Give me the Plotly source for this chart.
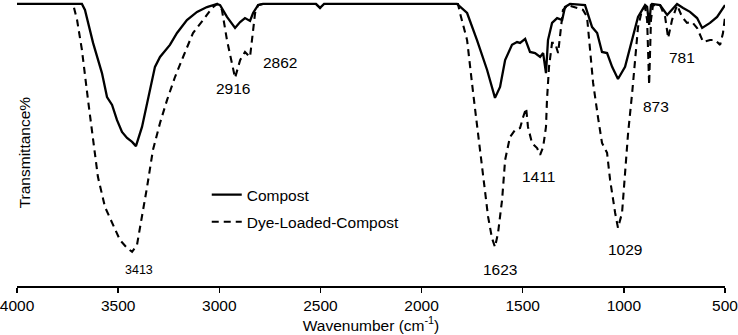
import plotly.graph_objects as go

# Compost (solid)
compost_wn = [4000, 3679, 3664, 3624, 3580, 3555, 3530, 3506, 3481, 3456, 3431, 3412, 3382, 3352,
              3318, 3293, 3244, 3209, 3160, 3110, 3061, 3011, 2996, 2962, 2922, 2897, 2873, 2848,
              2833, 2808, 2784, 2522, 2502, 2482, 1825, 1775, 1726, 1676, 1637, 1612, 1587, 1553,
              1528, 1513, 1488, 1464, 1439, 1414, 1399, 1385, 1375, 1355, 1330, 1305, 1291, 1266,
              1192, 1157, 1132, 1108, 1083, 1058, 1029, 994, 959, 930, 895, 885, 875, 866, 861,
              821, 786, 737, 707, 673, 638, 613, 574, 539, 500]
compost_t = [100, 100, 97.9, 86.2, 75.5, 67.0, 64.2, 58.9, 54.6, 52.5, 51.1, 49.6, 56.4, 66.0,
             77.7, 81.2, 85.5, 89.7, 94.3, 97.2, 98.9, 100, 99.6, 95.4, 91.5, 93.6, 95.0, 94.0,
             96.8, 99.6, 100, 100, 98.6, 100, 100, 96.8, 87.2, 76.6, 66.7, 70.6, 80.1, 85.5,
             86.5, 86.2, 87.6, 83.0, 82.6, 81.2, 82.6, 75.5, 87.2, 93.3, 95.0, 94.3, 98.9, 100,
             99.6, 91.8, 89.7, 83.0, 82.6, 77.7, 73.4, 77.7, 87.2, 95.4, 99.6, 99.0, 92.6, 99.6, 100,
             99.6, 96.1, 100, 98.6, 97.2, 95.0, 91.5, 93.3, 95.4, 99.6]

# Dye-Loaded-Compost (dashed)
dye_wn = [4000, 3723, 3703, 3679, 3649, 3624, 3600, 3565, 3530, 3491, 3456, 3431, 3407, 3382,
          3357, 3328, 3293, 3258, 3219, 3179, 3130, 3080, 3036, 3011, 2987, 2962, 2937, 2922,
          2897, 2873, 2848, 2833, 2823, 2808, 2784, 2522, 2502, 2482, 1820, 1810, 1775, 1745,
          1721, 1696, 1671, 1652, 1637, 1622, 1602, 1587, 1563, 1538, 1513, 1498, 1483, 1474,
          1454, 1429, 1414, 1399, 1385, 1380, 1370, 1355, 1340, 1325, 1310, 1301, 1276, 1241,
          1202, 1182, 1167, 1152, 1128, 1108, 1083, 1068, 1043, 1029, 1009, 994, 979, 959, 945,
          930, 910, 895, 885, 875, 866, 856, 821, 796, 781, 762, 737, 712, 688, 663, 638, 608,
          574, 549, 524, 510, 500]
dye_t = [100, 100, 94.3, 83.7, 66.0, 51.8, 38.7, 28.0, 22.3, 16.3, 13.5, 12.1, 14.5, 24.5,
         35.1, 48.2, 57.8, 66.0, 74.1, 81.2, 89.7, 94.3, 98.6, 100, 97.9, 87.2, 79.1, 73.8,
         80.1, 83.0, 81.2, 89.7, 96.8, 99.6, 100, 100, 98.6, 100, 100, 96.8, 87.2, 68.4,
         54.3, 38.7, 24.5, 17.0, 13.8, 18.8, 30.5, 44.7, 52.8, 55.3, 56.0, 59.9, 63.1, 56.4,
         50.7, 48.9, 46.5, 49.3, 56.4, 66.0, 77.7, 86.2, 86.2, 82.6, 91.8, 97.9, 99.6, 98.9,
         97.9, 95.4, 83.7, 72.0, 59.9, 50.7, 47.2, 37.6, 25.9, 20.6, 25.9, 40.1, 54.3, 68.4, 81.2,
         91.8, 97.9, 98.9, 94.3, 71.3, 94.3, 99.6, 99.6, 95.4, 87.9, 94.3, 99.6, 95.4, 93.3, 93.6, 91.5, 86.5,
         87.2, 87.2, 85.5, 89.7, 95.4]

# Peak labels
peak_labels = ["2916", "2862", "3413", "1623", "1411", "1029", "873", "781"]
peak_x = [2932, 2700, 3397, 1612, 1424, 994, 841, 712]
peak_y = [70.2, 79.4, 5.7, 6.0, 39.0, 13.1, 63.5, 81.2]
peak_size = [15.5, 15.5, 12.5, 15.5, 15.5, 15.5, 15.5, 15.5]

x_ticks = [4000, 3500, 3000, 2500, 2000, 1500, 1000, 500]

FONT = "Liberation Sans, Arial, sans-serif"

fig = go.Figure()
fig.add_trace(go.Scatter(x=compost_wn, y=compost_t, mode="lines", name="Compost",
                         legendgroup="a",
                         line=dict(color="black", width=2.3)))
fig.add_trace(go.Scatter(x=dye_wn, y=dye_t, mode="lines", name="Dye-Loaded-Compost",
                         legendgroup="b",
                         line=dict(color="black", width=2.1, dash="7px,5px")))

for lab, xx, yy, sz in zip(peak_labels, peak_x, peak_y, peak_size):
    fig.add_annotation(x=xx, y=yy, text=lab, showarrow=False,
                       font=dict(size=sz, color="black", family=FONT))

fig.add_annotation(xref="paper", yref="paper", x=0.011, y=0.47, text="Transmittance%",
                   textangle=-90, showarrow=False, xanchor="center", yanchor="middle",
                   font=dict(size=15.5, color="black", family=FONT))

fig.update_layout(
    width=738, height=335,
    margin=dict(l=17, r=13, t=2, b=49, autoexpand=False),
    paper_bgcolor="white", plot_bgcolor="white",
    font=dict(family=FONT, size=15.5, color="black"),
    showlegend=True,
    hovermode=False,
    legend=dict(x=0.268, y=0.38, xanchor="left", yanchor="top",
                bgcolor="rgba(0,0,0,0)", font=dict(size=15.5, family=FONT),
                tracegroupgap=4),
    xaxis=dict(range=[4000, 500], tickvals=x_ticks, ticktext=[str(t) for t in x_ticks],
               automargin=False, ticklabeloverflow="allow",
               showgrid=False, zeroline=False, showline=True, linecolor="black", linewidth=1.5,
               ticks="outside", ticklen=5, tickwidth=1.5, tickcolor="black",
               tickfont=dict(size=15.5, family=FONT),
               title=dict(text="Wavenumber (cm<sup>-1</sup>)", font=dict(size=15.5, family=FONT),
                          standoff=4)),
    yaxis=dict(range=[0, 100.7], showgrid=False, zeroline=False, showline=False,
               showticklabels=False, ticks="", automargin=False),
)

fig.write_html("out.html", config={"displayModeBar": False, "staticPlot": True},
               post_script="document.body.style.margin='0px';document.body.style.padding='0px';")
